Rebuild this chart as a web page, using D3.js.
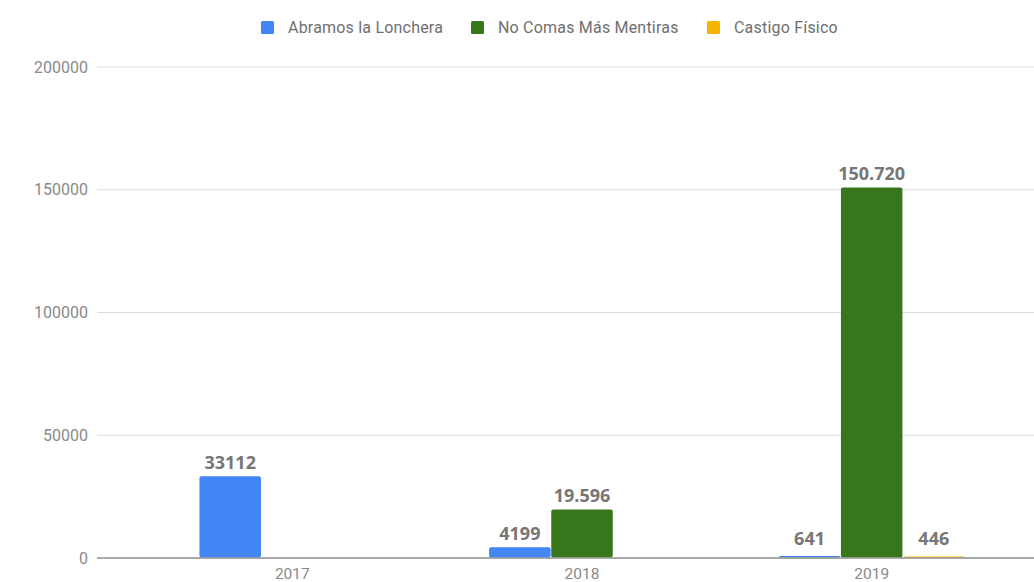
<!DOCTYPE html>
<html>
<head>
<meta charset="utf-8">
<script src="https://cdn.jsdelivr.net/npm/d3@7"></script>
<style>
  body { margin: 0; background: #fff; }
  svg { display: block; }
</style>
</head>
<body>
<svg width="1034" height="582"></svg>
<script>
// datos del gráfico
const years = ["2017", "2018", "2019"];
const seriesNames = ["Abramos la Lonchera", "No Comas Más Mentiras", "Castigo Físico"];
const lonchera = [33112, 4199, 641];
const mentiras = [0, 19596, 150720];
const castigo = [0, 0, 446];
// etiquetas tal como salen en la imagen
const loncheraLabels = ["33112", "4199", "641"];
const mentirasLabels = ["", "19.596", "150.720"];
const castigoLabels = ["", "", "446"];
const yTicks = [0, 50000, 100000, 150000, 200000];
const colors = ["#4285f4", "#38761d", "#f6b400"];

const svg = d3.select("svg");
const plot = { left: 97, right: 1040, top: 67, bottom: 558 };

const series = [
  { name: seriesNames[0], values: lonchera, labels: loncheraLabels },
  { name: seriesNames[1], values: mentiras, labels: mentirasLabels },
  { name: seriesNames[2], values: castigo, labels: castigoLabels }
];

const y = d3.scaleLinear().domain([0, 200000]).range([plot.bottom, plot.top]);

// escala de categorías
const x0 = d3.scaleBand().domain(years).range([147.5, 1016.5]).paddingInner(0).paddingOuter(0);
const x1 = d3.scaleBand().domain(seriesNames).range([0, 187]).padding(0.01);
const groupOffset = (x0.bandwidth() - 187) / 2;

// líneas de la cuadrícula
svg.append("g")
  .selectAll("line")
  .data(yTicks.filter(d => d > 0))
  .join("line")
  .attr("x1", plot.left)
  .attr("x2", plot.right)
  .attr("y1", d => y(d))
  .attr("y2", d => y(d))
  .attr("stroke", "#dcdcdc")
  .attr("stroke-width", 1.2);

// eje y (solo texto)
svg.append("g")
  .attr("transform", `translate(${plot.left},0)`)
  .call(d3.axisLeft(y).tickValues(yTicks).tickSize(0).tickPadding(9).tickFormat(d3.format("d")))
  .call(g => g.select(".domain").remove())
  .selectAll("text")
  .attr("fill", "#8a8a8a")
  .style("font-family", "Roboto, sans-serif")
  .style("font-size", "16px");

// barras
const groups = svg.append("g")
  .selectAll("g")
  .data(years)
  .join("g")
  .attr("transform", d => `translate(${x0(d) + groupOffset},0)`);

groups.selectAll("rect")
  .data((yr, i) => series.map((s, k) => ({ s, k, v: s.values[i], label: s.labels[i] })))
  .join("rect")
  .attr("x", d => x1(d.s.name))
  .attr("width", x1.bandwidth())
  .attr("y", d => y(d.v) - 0.5)
  .attr("height", d => Math.max(0, plot.bottom - y(d.v)))
  .attr("rx", 2)
  .attr("fill", d => colors[d.k]);

// etiquetas de datos
groups.selectAll("text")
  .data((yr, i) => series.map((s, k) => ({ s, k, v: s.values[i], label: s.labels[i] })).filter(d => d.label))
  .join("text")
  .attr("x", d => x1(d.s.name) + x1.bandwidth() / 2)
  .attr("y", d => Math.min(y(d.v), plot.bottom - 5) - 8)
  .attr("text-anchor", "middle")
  .attr("fill", "#767676")
  .style("font-family", "'Open Sans', sans-serif")
  .style("font-weight", "bold")
  .style("font-size", "18px")
  .text(d => d.label);

// línea base
svg.append("line")
  .attr("x1", plot.left)
  .attr("x2", plot.right)
  .attr("y1", plot.bottom)
  .attr("y2", plot.bottom)
  .attr("stroke", "#8c8c8c")
  .attr("stroke-width", 1.5);

// eje x
svg.append("g")
  .attr("transform", `translate(0,${plot.bottom})`)
  .call(d3.axisBottom(x0).tickSize(0).tickPadding(10))
  .call(g => g.select(".domain").remove())
  .selectAll("text")
  .attr("fill", "#8a8a8a")
  .style("font-family", "Roboto, sans-serif")
  .style("font-size", "15.5px");

// leyenda
const legendX = [261, 471, 707];
const legend = svg.append("g")
  .selectAll("g")
  .data(seriesNames)
  .join("g")
  .attr("transform", (d, i) => `translate(${legendX[i]},21)`);

legend.append("rect")
  .attr("width", 13)
  .attr("height", 13)
  .attr("rx", 1.5)
  .attr("fill", (d, i) => colors[i]);

legend.append("text")
  .attr("x", 27)
  .attr("y", 12)
  .attr("fill", "#6f6f6f")
  .style("font-family", "Roboto, sans-serif")
  .style("font-size", "16px")
  .style("letter-spacing", "0.2px")
  .text(d => d);
</script>
</body>
</html>
